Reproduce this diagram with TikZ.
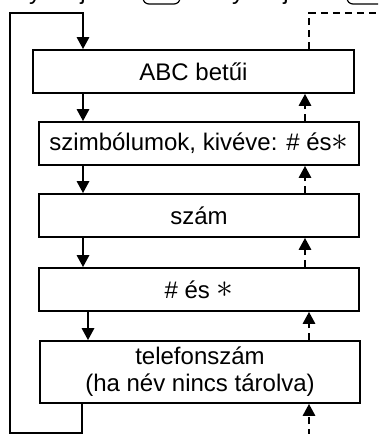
\documentclass[tikz,border=0pt]{standalone}
\usepackage{fontspec}
\setmainfont{Liberation Sans}
\usetikzlibrary{arrows.meta}
\newcommand{\bigast}{\raisebox{0.5pt}{\scalebox{1.35}{$\ast$}}}
\begin{document}
\begin{tikzpicture}[x=1pt,y=-1pt,
  box/.style={draw, line width=1.6pt, minimum width=320pt, minimum height=43pt,
    inner sep=0pt, font=\fontsize{24}{27}\selectfont, align=center},
  flow/.style={line width=2.7pt, -{Triangle[width=12pt,length=12pt]}},
  back/.style={line width=2.7pt, dash pattern=on 7pt off 5pt, -{Triangle[width=12pt,length=12pt]}},
  backline/.style={line width=2.7pt, dash pattern=on 7pt off 5pt},
  frag/.style={font=\fontsize{24}{27}\selectfont, anchor=base, inner sep=0pt},
  keybox/.style={draw, line width=1.2pt, rounded corners=6pt}]
\useasboundingbox (0,0) rectangle (378,434);
\clip (0,0) rectangle (378,434);
% clipped fragments of the text line above
\node[frag] (f1) at (35,-1) {y};
\node[frag] (f2) at (83,-1) {j};
\node[frag] (f3) at (238,-1) {y};
\node[frag] (f4) at (286,-1) {j};
\draw[keybox] (143,-20) rectangle (180,4);
\draw[keybox] (347,-20) rectangle (400,4);
% boxes
\node[box, minimum width=321pt] (b1) at (193.5,71.5) {ABC betűi};
\node[box] (b2) at (199,143.5) {szimbólumok, kivéve: \# és\bigast};
\node[box] (b3) at (199,215.5) {szám};
\node[box] (b4) at (199,289.5) {\# és \bigast};
\node[box, minimum height=62pt] (b5) at (200,372) {telefonszám\\(ha név nincs tárolva)};
% columns
\coordinate (cd) at (83,0);
\coordinate (c4) at (88,0);
\coordinate (c5) at (82,0);
\coordinate (cu) at (305,0);
\coordinate (cu5) at (309,0);
\coordinate (l1) at (10,433);
\coordinate (l2) at (10,13);
\coordinate (d0) at (309,436);
\coordinate (dr) at (380,13);
% forward arrows
\draw[flow] (b5.south -| c5) |- (l1) -- (l2) -| (b1.north -| cd);
\draw[flow] (b1.south -| cd) -- (b2.north -| cd);
\draw[flow] (b2.south -| cd) -- (b3.north -| cd);
\draw[flow] (b3.south -| cd) -- (b4.north -| cd);
\draw[flow] (b4.south -| c4) -- (b5.north -| c4);
% backward dashed arrows
\draw[back] (d0) -- (b5.south -| cu5);
\draw[back] (b5.north -| cu5) -- (b4.south -| cu5);
\draw[back] (b4.north -| cu) -- (b3.south -| cu);
\draw[back] (b3.north -| cu) -- (b2.south -| cu);
\draw[back] (b2.north -| cu) -- (b1.south -| cu);
\draw[backline] (b1.north -| cu5) |- (dr);
\end{tikzpicture}
\end{document}
